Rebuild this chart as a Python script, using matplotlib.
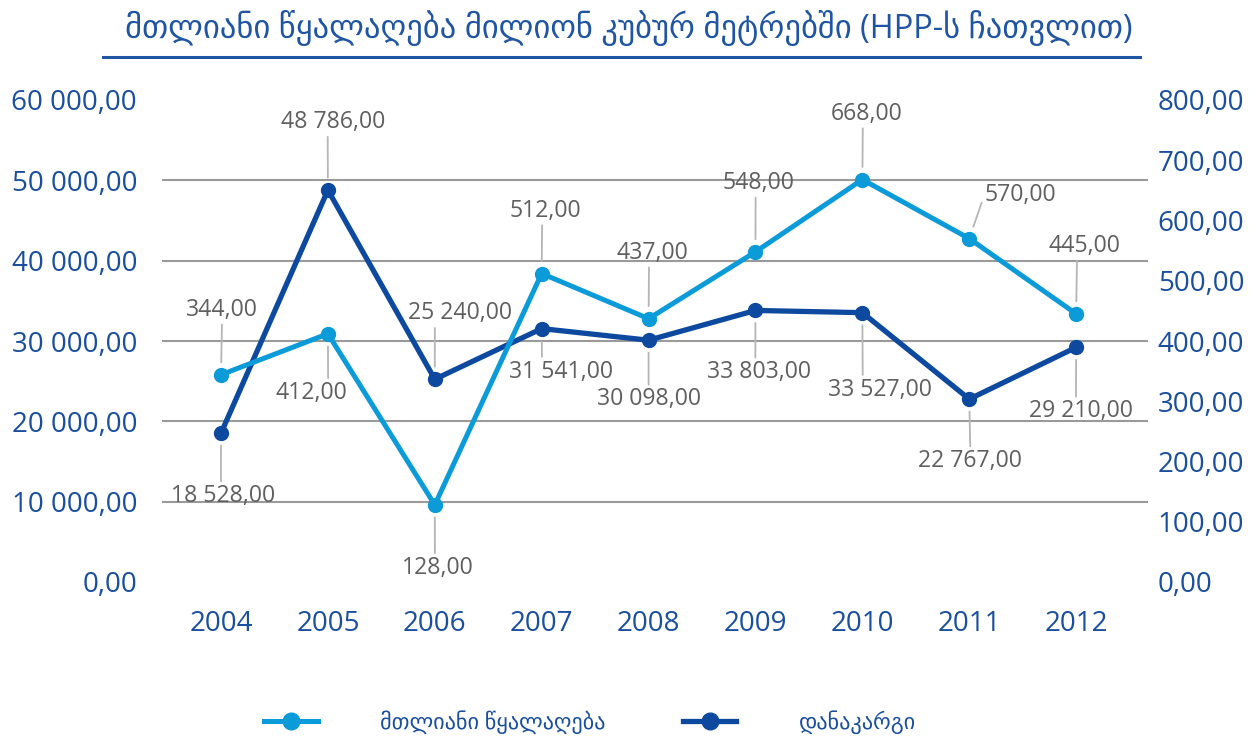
import matplotlib
matplotlib.use("Agg")
import matplotlib.pyplot as plt
from matplotlib.lines import Line2D

plt.rcParams["font.family"] = ["Open Sans", "DejaVu Sans"]

# data
years = ["2004", "2005", "2006", "2007", "2008", "2009", "2010", "2011", "2012"]
total_withdrawal = [344, 412, 128, 512, 437, 548, 668, 570, 445]  # right axis
losses = [18528, 48786, 25240, 31541, 30098, 33803, 33527, 22767, 29210]  # left axis

title = "მთლიანი წყალაღება მილიონ კუბურ მეტრებში (HPP-ს ჩათვლით)"
label_total = "მთლიანი წყალაღება"
label_losses = "დანაკარგი"

LIGHT = "#0b9bd8"
DARK = "#0d4a9f"
TICK = "#1a4f9e"
LABEL_GRAY = "#5f5f5f"
LEADER = "#b5b5b5"

# label placement (pixel offsets from the point, relpos of leader on label box)
light_offsets = [(1, 65), (-17, -59), (3, -63), (4, 63), (4, 66), (3, 69), (4, 66), (51, 44), (8, 68)]
light_relpos = [(0.5, 0), (0.74, 1), (0.46, 1), (0.45, 0), (0.45, 0), (0.46, 0), (0.45, 0), (0.0, 0.5), (0.4, 0)]
dark_offsets = [(2, -63), (5, 68), (25, 66), (19, -43), (0, -59), (4, -62), (18, -77), (1, -62), (5, -64)]
dark_relpos = [(0.48, 1), (0.45, 0), (0.26, 0), (0.32, 1), (0.5, 1), (0.46, 1), (0.33, 1), (0.5, 1), (0.45, 1)]


def fmt(v):
    return f"{v:,.2f}".replace(",", " ").replace(".", ",")


fig = plt.figure(figsize=(12.58, 7.41), dpi=100)
ax = fig.add_axes([162 / 1258, 159 / 741, 986 / 1258, 482 / 741])
ax2 = ax.twinx()

x = list(range(len(years)))

ax.plot(x, losses, color=DARK, lw=3.8, marker="o", ms=10, zorder=3)
ax2.plot(x, total_withdrawal, color=LIGHT, lw=3.6, marker="o", ms=10, zorder=3)

ax.set_xlim(-0.552, 8.672)
ax.set_ylim(0, 60000)
ax2.set_ylim(0, 800)
ax.set_yticks(range(0, 60001, 10000))
ax2.set_yticks(range(0, 801, 100))
ax.set_yticklabels([fmt(v) for v in range(0, 60001, 10000)])
ax2.set_yticklabels([fmt(v) for v in range(0, 801, 100)])
ax.set_xticks(x)
ax.set_xticklabels(years)

ax.tick_params(axis="y", length=0, pad=18, labelsize=20, labelcolor=TICK)
ax2.tick_params(axis="y", length=0, pad=7, labelsize=20, labelcolor=TICK)
ax.tick_params(axis="x", length=0, pad=20, labelsize=20, labelcolor=TICK)

for a in (ax, ax2):
    for s in a.spines.values():
        s.set_visible(False)

ax.grid(axis="y", color="#9a9a9a", lw=1.5)
ax.grid(axis="x", visible=False)
gl = ax.yaxis.get_gridlines()
gl[0].set_visible(False)
gl[-1].set_visible(False)
ax.set_axisbelow(True)

for i, v in enumerate(losses):
    ax.annotate(fmt(v), (i, v), xytext=dark_offsets[i], textcoords="offset pixels",
                ha="center", va="center", fontsize=16.6, color=LABEL_GRAY,
                arrowprops=dict(arrowstyle="-", color=LEADER, lw=1.3,
                                shrinkA=0, shrinkB=9, relpos=dark_relpos[i]),
                zorder=4)

for i, v in enumerate(total_withdrawal):
    ax2.annotate(fmt(v), (i, v), xytext=light_offsets[i], textcoords="offset pixels",
                 ha="center", va="center", fontsize=16.6, color=LABEL_GRAY,
                 arrowprops=dict(arrowstyle="-", color=LEADER, lw=1.3,
                                 shrinkA=0, shrinkB=9, relpos=light_relpos[i]),
                 zorder=4)

# title with underline
fig.text(0.5, 1 - 28 / 741, title, ha="center", va="center", fontsize=23.5, color="#1f55a3")
fig.add_artist(Line2D([103 / 1258, 1140 / 1258], [1 - 57 / 741, 1 - 57 / 741],
                      color="#1f55a3", lw=2.2, transform=fig.transFigure))

handles = [
    Line2D([], [], color=LIGHT, lw=3.6, marker="o", ms=12),
    Line2D([], [], color=DARK, lw=3.8, marker="o", ms=12),
]
fig.legend(handles, [label_total, label_losses], loc="center",
           bbox_to_anchor=(590 / 1258, 1 - 722 / 741), ncol=2, frameon=False,
           fontsize=16, labelcolor=TICK, handlelength=2.4, handletextpad=2.8,
           columnspacing=3.5)

fig.savefig("out.png", dpi=100)
